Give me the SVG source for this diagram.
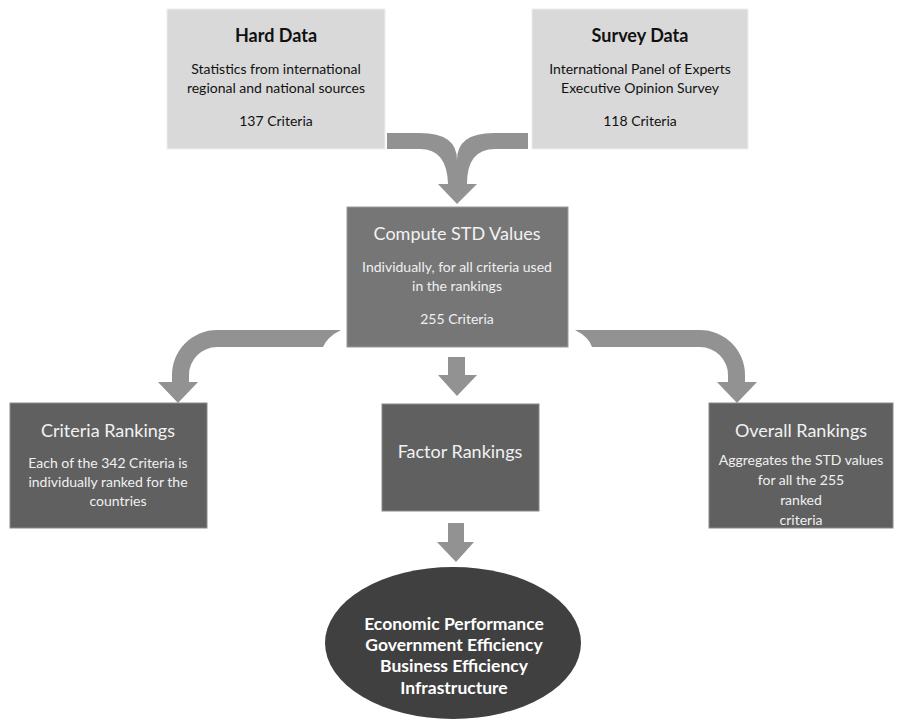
<svg xmlns="http://www.w3.org/2000/svg" width="898" height="728" viewBox="0 0 898 728">
<style>
.light{fill:#d9d9d9;stroke:#eeeeee;stroke-width:1}
.mid{fill:#767676;stroke:#9a9a9a;stroke-width:1}
.dark{fill:#606060;stroke:#8a8a8a;stroke-width:1}
.ell{fill:#404040}
.arrow{fill:#929292}
text{font-family:Lato,"Open Sans","Liberation Sans",sans-serif;text-anchor:middle}
.t1{font-size:18px;font-weight:bold;fill:#111111}
.b1{font-size:14px;fill:#111111}
.t2{font-size:18px;fill:#f2f2f2}
.b2{font-size:14px;fill:#f0f0f0}
.e{font-size:17.5px;font-weight:bold;fill:#ffffff}
</style>
<rect width="898" height="728" fill="#ffffff"/>
<g id="connectors">
<path class="arrow" d="M387,133 L420,133 Q457,133 457,160 Q457,133 494,133 L528,133 L528,149 L495,149 Q467,149 467,184 L477,184 L457,204 L438,184 L448,184 Q447,149 420,149 L387,149 Z"/>
<path class="arrow" d="M341,330 L217,330 A45,45 0 0 0 172,375 L172,382 L158,382 L178,403 L198,382 L189,382 L189,375 A28,28 0 0 1 217,347 L323,347 Q327,337 341,330 Z"/>
<path class="arrow" d="M575,330 L700,330 A45,45 0 0 1 745,375 L745,382 L757,382 L737,403 L717,382 L728,382 L728,375 A28,28 0 0 0 700,347 L592,347 Q589,337 575,330 Z"/>
<path class="arrow" d="M448,357 L465,357 L465,375 L477,375 L457,396 L438,375 L448,375 Z"/>
<path class="arrow" d="M448,523 L464,523 L464,542 L474,542 L456,562 L437,542 L448,542 Z"/>
</g>
<g id="hard-data">
<rect class="light" x="167" y="9" width="218" height="140"/>
<text class="t1" x="276" y="42">Hard Data</text>
<text class="b1" x="276" y="74">Statistics from international</text>
<text class="b1" x="276" y="93">regional and national sources</text>
<text class="b1" x="276" y="126">137 Criteria</text>
</g>
<g id="survey-data">
<rect class="light" x="532" y="9" width="216" height="140"/>
<text class="t1" x="640" y="42">Survey Data</text>
<text class="b1" x="640" y="74">International Panel of Experts</text>
<text class="b1" x="640" y="93">Executive Opinion Survey</text>
<text class="b1" x="640" y="126">118 Criteria</text>
</g>
<g id="compute-std">
<rect class="mid" x="347" y="207" width="221" height="140"/>
<text class="t2" x="457" y="240">Compute STD Values</text>
<text class="b2" x="457" y="272">Individually, for all criteria used</text>
<text class="b2" x="457" y="291">in the rankings</text>
<text class="b2" x="457" y="324">255 Criteria</text>
</g>
<g id="criteria-rankings">
<rect class="dark" x="10" y="403" width="197" height="125"/>
<text class="t2" x="108" y="437">Criteria Rankings</text>
<text class="b2" x="108" y="468">Each of the 342 Criteria is</text>
<text class="b2" x="108" y="487">individually ranked for the</text>
<text class="b2" x="118" y="506">countries</text>
</g>
<g id="factor-rankings">
<rect class="dark" x="382" y="404" width="157" height="107"/>
<text class="t2" x="460" y="458">Factor Rankings</text>
</g>
<g id="overall-rankings">
<rect class="dark" x="709" y="403" width="184" height="125"/>
<text class="t2" x="801" y="437">Overall Rankings</text>
<text class="b2" x="801" y="465">Aggregates the STD values</text>
<text class="b2" x="801" y="485">for all the 255</text>
<text class="b2" x="801" y="505">ranked</text>
<text class="b2" x="801" y="525">criteria</text>
</g>
<g id="factors">
<ellipse class="ell" cx="453" cy="643" rx="128" ry="76"/>
<text class="e" x="454" y="630">Economic Performance</text>
<text class="e" x="454" y="651">Government Efficiency</text>
<text class="e" x="454" y="672">Business Efficiency</text>
<text class="e" x="454" y="694">Infrastructure</text>
</g>
</svg>
